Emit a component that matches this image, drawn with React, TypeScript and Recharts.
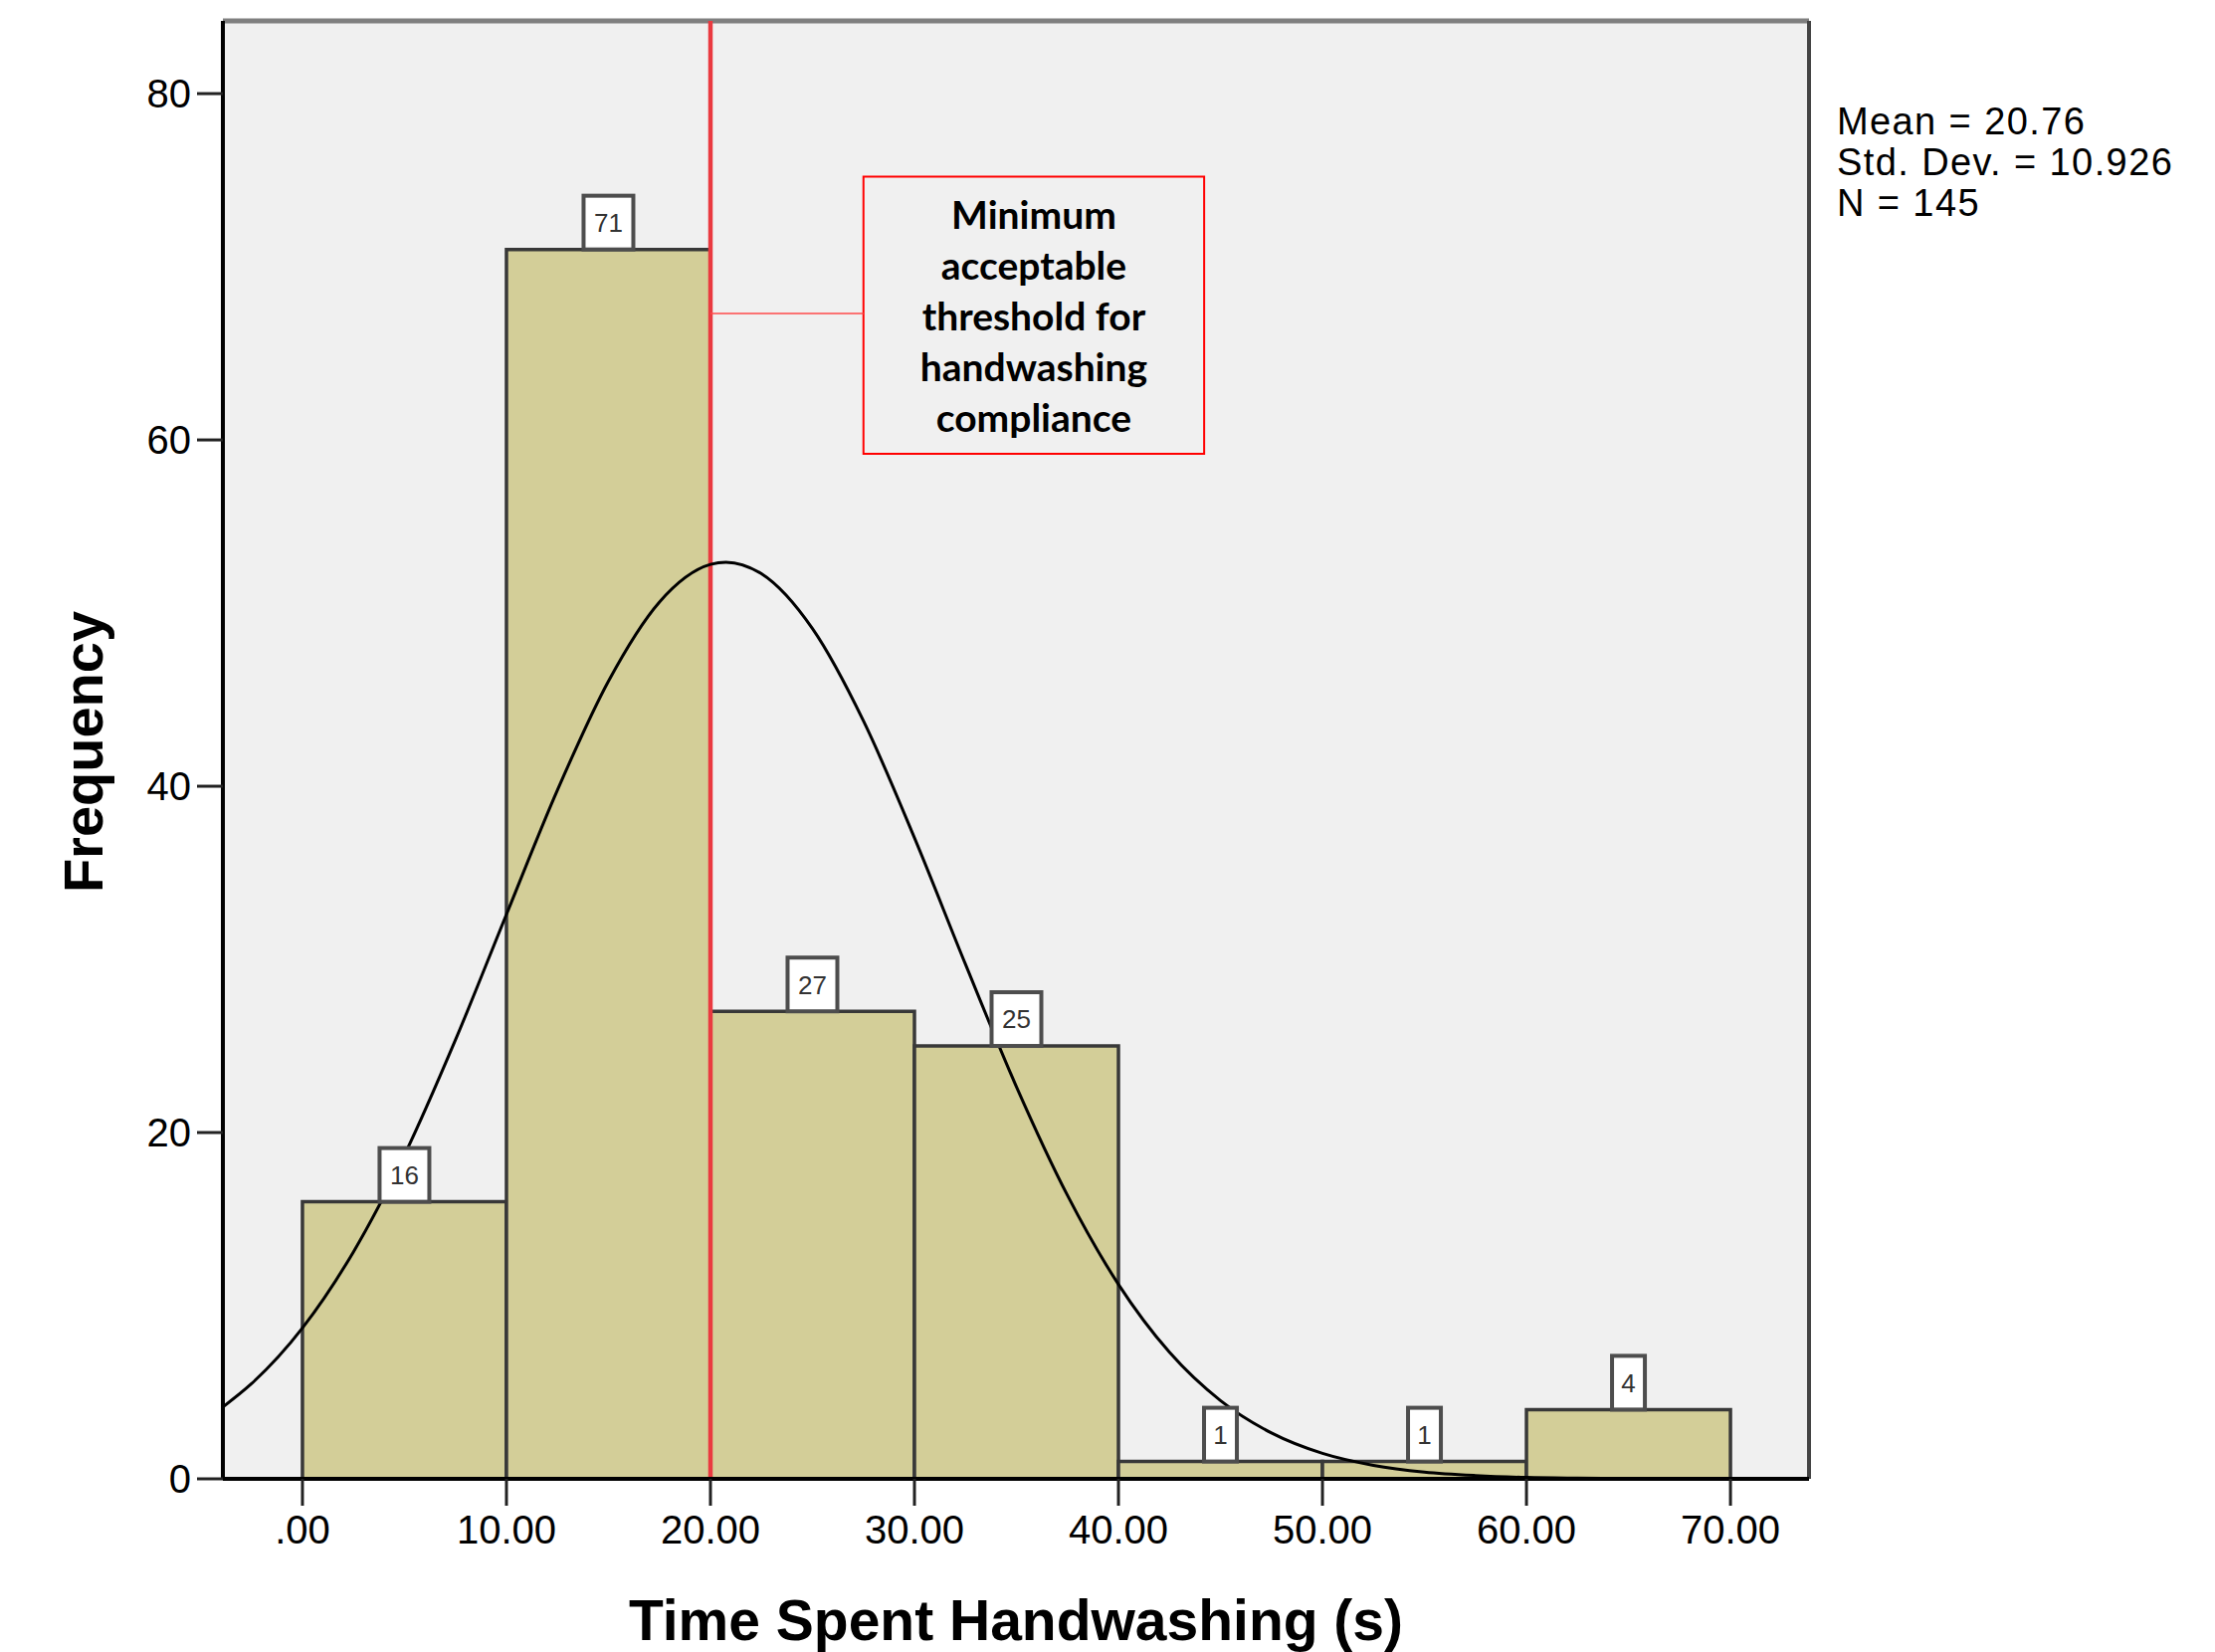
import React from 'react';
import {
  ComposedChart,
  Bar,
  Line,
  XAxis,
  YAxis,
  ReferenceLine,
  ReferenceArea,
  LabelList,
  CartesianGrid,
  Customized,
} from 'recharts';

// ---- data ----
const binCenters = [5, 15, 25, 35, 45, 55, 65];
const binCounts = [16, 71, 27, 25, 1, 1, 4];

const xTicks = [0, 10, 20, 30, 40, 50, 60, 70];
const yTicks = [0, 20, 40, 60, 80];

const curveX = [-3.9, -2.5, 0, 2.5, 5, 7.5, 10, 12.5, 15, 17.5, 20, 20.76, 22.5, 25, 27.5, 30, 32.5, 35, 37.5, 40, 42.5, 45, 47.5, 50, 52.5, 55, 57.5, 60, 62.5, 65, 67.5, 70];
const curveY = [4.15, 5.49, 8.71, 13.11, 18.7, 25.35, 32.6, 39.78, 46.07, 50.64, 52.81, 52.94, 52.27, 49.1, 43.77, 37.02, 29.72, 22.64, 16.37, 11.23, 7.31, 4.52, 2.65, 1.47, 0.78, 0.39, 0.19, 0.08, 0.04, 0.02, 0.01, 0.0];

const thresholdX = 20;
const noteLines = ['Minimum', 'acceptable', 'threshold for', 'handwashing', 'compliance'];
const noteBox = { x1: 27.5, x2: 44.2, y1: 59.2, y2: 75.2, connectorY: 67.3 };
const statsLines = ['Mean = 20.76', 'Std. Dev. = 10.926', 'N = 145'];
const xTitle = 'Time Spent Handwashing (s)';
const yTitle = 'Frequency';

const xDomain = [-3.9, 73.85];
const yDomain = [0, 84.2];

const binData = binCenters.map((x, i) => ({ x, count: binCounts[i] }));
const curveData = curveX.map((x, i) => ({ x, y: curveY[i] }));

const ARIAL = 'Liberation Sans, Arial, sans-serif';

const BinLabel = (props: any) => {
  const { x, y, width, value } = props;
  const s = String(value);
  const w = s.length > 1 ? 50 : 33;
  const h = 54;
  const cx = Number(x) + Number(width) / 2;
  const top = Number(y) - h;
  return (
    <g>
      <rect x={cx - w / 2} y={top} width={w} height={h} fill="#ffffff" stroke="#4d4d4d" strokeWidth={4} />
      <text x={cx} y={top + h / 2} dy="0.36em" textAnchor="middle" fontSize={26} fill="#333" fontFamily={ARIAL}>
        {s}
      </text>
    </g>
  );
};

const NoteLabel = (props: any) => {
  const vb = props.viewBox || {};
  const cx = vb.x + vb.width / 2;
  const firstBaseline = vb.y + 52;
  return (
    <g>
      {noteLines.map((t, i) => (
        <text
          key={t}
          x={cx}
          y={firstBaseline + i * 51}
          textAnchor="middle"
          fontSize={39}
          fontWeight={700}
          fontFamily="Lato, sans-serif"
          fill="#000"
        >
          {t}
        </text>
      ))}
    </g>
  );
};

const XTitle = (props: any) => {
  const vb = props.viewBox || {};
  return (
    <text x={vb.x + vb.width / 2} y={vb.y + 162} textAnchor="middle" fontSize={57} fontWeight={700} fontFamily={ARIAL} fill="#000">
      {xTitle}
    </text>
  );
};

const YTitle = (props: any) => {
  const vb = props.viewBox || {};
  const cx = 103;
  const cy = vb.y + vb.height / 2 + 2;
  return (
    <text x={cx} y={cy} transform={`rotate(-90, ${cx}, ${cy})`} textAnchor="middle" fontSize={56} fontWeight={700} fontFamily={ARIAL} fill="#000">
      {yTitle}
    </text>
  );
};

const Stats = () => (
  <g>
    {statsLines.map((t, i) => (
      <text key={t} x={1846} y={135 + i * 41} fontSize={38} letterSpacing={1.4} fontFamily={ARIAL} fill="#000">
        {t}
      </text>
    ))}
  </g>
);

const fmtX = (v: number) => (v === 0 ? '.00' : v.toFixed(2));

export default function App() {
  return (
    <div style={{ position: 'absolute', left: 0, top: 0, width: 2226, height: 1660, background: '#fff' }}>
      <ComposedChart
        width={2226}
        height={1660}
        data={binData}
        margin={{ top: 21, right: 408, bottom: 0, left: 0 }}
        barCategoryGap={0}
        barGap={0}
      >
        <CartesianGrid fill="#f0f0f0" horizontal={false} vertical={false} />
        <XAxis
          dataKey="x"
          type="number"
          domain={xDomain}
          allowDataOverflow
          ticks={xTicks}
          tickFormatter={fmtX}
          interval={0}
          height={174}
          tickSize={27}
          tickMargin={10}
          tick={{ fontSize: 40, fill: '#000', fontFamily: ARIAL }}
          tickLine={{ stroke: '#222', strokeWidth: 3 }}
          axisLine={{ stroke: '#000', strokeWidth: 4 }}
          label={<XTitle />}
        />
        <XAxis xAxisId="curve" dataKey="x" type="number" domain={xDomain} allowDataOverflow hide />
        <YAxis
          type="number"
          domain={yDomain}
          allowDataOverflow
          ticks={yTicks}
          interval={0}
          width={224}
          tickSize={26}
          tickMargin={6}
          tick={{ fontSize: 40, fill: '#000', fontFamily: ARIAL }}
          tickLine={{ stroke: '#222', strokeWidth: 3 }}
          axisLine={{ stroke: '#000', strokeWidth: 4 }}
          label={<YTitle />}
        />
        {/* plot frame: top and right edges */}
        <ReferenceLine y={yDomain[1]} stroke="#7f7f7f" strokeWidth={5} />
        <ReferenceLine x={xDomain[1]} stroke="#444" strokeWidth={4} />
        <Bar dataKey="count" fill="#d3ce98" stroke="#383838" strokeWidth={3.5} isAnimationActive={false}>
          <LabelList dataKey="count" content={<BinLabel />} />
        </Bar>
        <ReferenceLine x={thresholdX} stroke="#ea3a40" strokeWidth={4.5} />
        <ReferenceLine
          segment={[
            { x: thresholdX, y: noteBox.connectorY },
            { x: noteBox.x1, y: noteBox.connectorY },
          ]}
          stroke="#ff4a4a"
          strokeWidth={1.5}
        />
        <ReferenceArea
          x1={noteBox.x1}
          x2={noteBox.x2}
          y1={noteBox.y1}
          y2={noteBox.y2}
          fill="#f0f0f0"
          fillOpacity={1}
          stroke="#ff0000"
          strokeWidth={2}
          label={<NoteLabel />}
        />
        <Line
          xAxisId="curve"
          data={curveData}
          dataKey="y"
          type="monotone"
          stroke="#000"
          strokeWidth={3}
          dot={false}
          activeDot={false}
          isAnimationActive={false}
        />
        <Customized component={<Stats />} />
      </ComposedChart>
    </div>
  );
}
